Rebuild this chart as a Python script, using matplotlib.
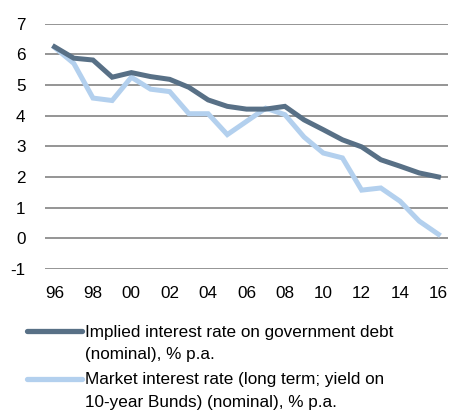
import matplotlib
matplotlib.use("Agg")
import matplotlib.pyplot as plt
from matplotlib.lines import Line2D

years = list(range(1996, 2017))
tick_labels = ["96", "98", "00", "02", "04", "06", "08", "10", "12", "14", "16"]
implied = [6.24, 5.87, 5.81, 5.25, 5.40, 5.27, 5.18, 4.92, 4.51, 4.30, 4.21,
           4.21, 4.30, 3.86, 3.54, 3.21, 2.98, 2.56, 2.35, 2.13, 2.00]
market = [6.22, 5.70, 4.57, 4.49, 5.25, 4.86, 4.78, 4.06, 4.06, 3.38, 3.81,
          4.24, 4.03, 3.30, 2.78, 2.62, 1.57, 1.64, 1.21, 0.56, 0.13]
labels = [["Implied interest rate on government debt", "(nominal), % p.a."],
          ["Market interest rate (long term; yield on", "10-year Bunds) (nominal), % p.a."]]

dark = "#587086"
light = "#b3d0ee"
plt.rcParams['font.family'] = ['Liberation Sans', 'DejaVu Sans']
fs = 12.3

fig = plt.figure(figsize=(4.51, 4.12), dpi=100)
ax = fig.add_axes([45/451, 1-269/412, (448-45)/451, (269-23.5)/412])
x = list(range(len(years)))
ax.plot(x, implied, color=dark, lw=3.6, solid_joinstyle='miter', zorder=3)
ax.plot(x, market, color=light, lw=3.6, solid_joinstyle='miter', zorder=2)
ax.set_xlim(-0.5, len(years) - 0.5)
ax.set_ylim(-1, 7)
ax.set_yticks(range(-1, 8))
ax.set_yticklabels([str(v) for v in range(-1, 8)])
ax.set_xticks(x[::2])
ax.set_xticklabels(tick_labels)
ax.grid(axis='y', color='#8c8c8c', lw=1.3)
ax.set_axisbelow(True)
for s in ax.spines.values():
    s.set_visible(False)
ax.tick_params(axis='both', length=0, labelsize=fs, colors='black')
ax.tick_params(axis='y', pad=14)
ax.tick_params(axis='x', pad=12)

# legend
handle_y = [331, 379]
baselines = [[336.7, 359], [384, 407]]
for lab, col, hy, bls in zip(labels, [dark, light], handle_y, baselines):
    fig.add_artist(Line2D([27/451, 82/451], [1-hy/412, 1-hy/412], color=col, lw=3.8,
                          solid_capstyle='round', transform=fig.transFigure))
    for line, b in zip(lab, bls):
        fig.text(85/451, 1-b/412, line, fontsize=fs, va='baseline', ha='left')

fig.savefig("out.png", dpi=100)
